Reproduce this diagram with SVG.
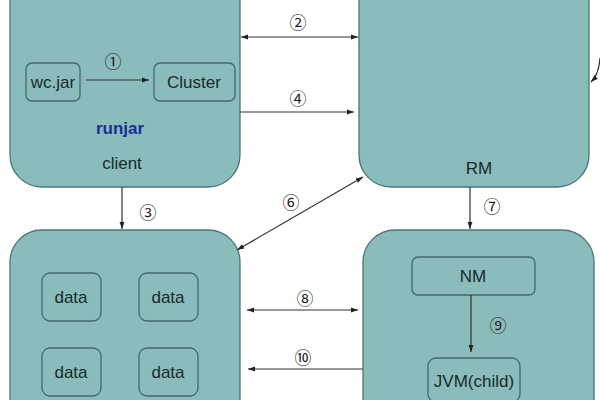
<svg xmlns="http://www.w3.org/2000/svg" width="600" height="400" viewBox="0 0 600 400">
<defs>
<style>
.big{fill:#89bcbb;stroke:#4d7777;stroke-width:1.3}
.sm{fill:#89bcbb;stroke:#3f6a6a;stroke-width:1.3}
.t{font-family:"Liberation Sans",Arial,sans-serif;font-size:17px;fill:#182a2a;text-anchor:middle}
.n{font-family:"Noto Sans CJK SC","DejaVu Sans",sans-serif;font-size:17px;fill:#222;text-anchor:middle}
.c{fill:none;stroke:#333;stroke-width:1.2}
</style>
<marker id="ah" viewBox="0 0 10 10" refX="10" refY="5" markerWidth="6" markerHeight="6" orient="auto-start-reverse">
<path d="M0,1.5 L10,5 L0,8.5 z" fill="#222"/>
</marker>
</defs>
<rect width="600" height="400" fill="#fff"/>
<g id="client">
<rect class="big" x="10" y="-40" width="230" height="227" rx="32"/>
<text class="t" x="120" y="134" style="fill:#1d2d96;font-weight:bold">runjar</text>
<text class="t" x="122" y="169">client</text>
</g>
<g id="wcjar"><rect class="sm" x="26" y="63" width="54" height="38" rx="6"/><text class="t" x="53" y="88">wc.jar</text></g>
<g id="cluster"><rect class="sm" x="154" y="63" width="81" height="38" rx="6"/><text class="t" x="194" y="88">Cluster</text></g>
<g id="rm">
<rect class="big" x="359" y="-40" width="230" height="227" rx="32"/>
<text class="t" x="479" y="174">RM</text>
</g>
<g id="datanode">
<rect class="big" x="10" y="230" width="230" height="220" rx="32"/>
</g>
<g id="data1"><rect class="sm" x="42" y="273" width="59" height="48" rx="8"/><text class="t" x="71" y="303">data</text></g>
<g id="data2"><rect class="sm" x="139" y="273" width="59" height="48" rx="8"/><text class="t" x="168" y="303">data</text></g>
<g id="data3"><rect class="sm" x="42" y="348" width="59" height="48" rx="8"/><text class="t" x="71" y="378">data</text></g>
<g id="data4"><rect class="sm" x="139" y="348" width="59" height="48" rx="8"/><text class="t" x="168" y="378">data</text></g>
<g id="nmnode">
<rect class="big" x="363" y="230" width="231" height="220" rx="32"/>
</g>
<g id="nm"><rect class="sm" x="412" y="257" width="123" height="38" rx="6"/><text class="t" x="473" y="282">NM</text></g>
<g id="jvm"><rect class="sm" x="428" y="358" width="92" height="44" rx="8"/><text class="t" x="474" y="387">JVM(child)</text></g>
<g id="connectors">
<line class="c" x1="86" y1="80" x2="149" y2="80" marker-end="url(#ah)"/>
<text class="n" x="113" y="68">①</text>
<line class="c" x1="241" y1="37" x2="358" y2="37" marker-start="url(#ah)" marker-end="url(#ah)"/>
<text class="n" x="298" y="29">②</text>
<line class="c" x1="240" y1="112" x2="354" y2="112" marker-end="url(#ah)"/>
<text class="n" x="298" y="105">④</text>
<line class="c" x1="122" y1="187" x2="122" y2="229" marker-end="url(#ah)"/>
<text class="n" x="148" y="219">③</text>
<line class="c" x1="237" y1="250" x2="363" y2="177" marker-start="url(#ah)" marker-end="url(#ah)"/>
<text class="n" x="291" y="209">⑥</text>
<line class="c" x1="470" y1="187" x2="470" y2="229" marker-end="url(#ah)"/>
<text class="n" x="492" y="213">⑦</text>
<line class="c" x1="247" y1="310" x2="358" y2="310" marker-start="url(#ah)" marker-end="url(#ah)"/>
<text class="n" x="305" y="305">⑧</text>
<line class="c" x1="363" y1="369" x2="248" y2="369" marker-end="url(#ah)"/>
<text class="n" x="303" y="364">⑩</text>
<line class="c" x1="471" y1="295" x2="471" y2="352" marker-end="url(#ah)"/>
<text class="n" x="498" y="332">⑨</text>
<path class="c" d="M600,58 Q599,74 591,82" marker-end="url(#ah)"/>
</g>
</svg>
